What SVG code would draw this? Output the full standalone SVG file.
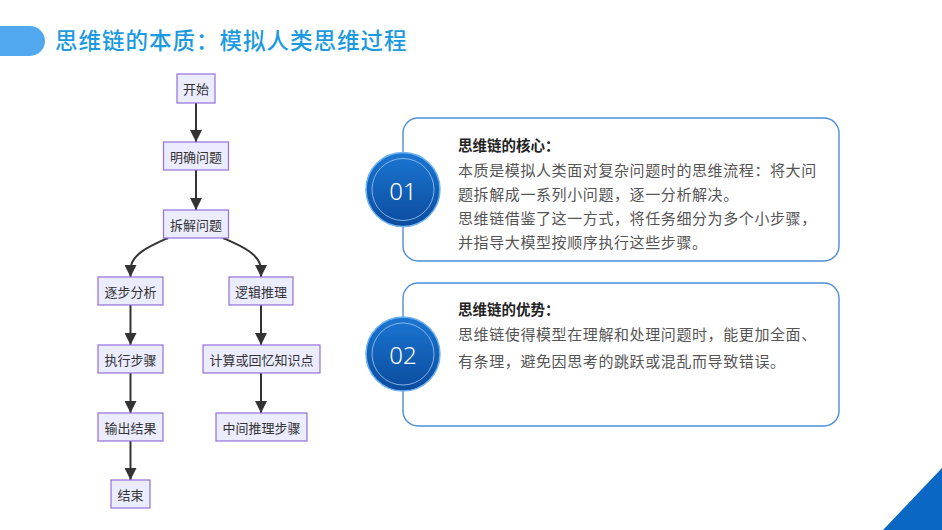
<svg xmlns="http://www.w3.org/2000/svg" width="942" height="530" viewBox="0 0 942 530">
<defs>
<style>
.nd rect{fill:#ECECFF;stroke:#9370DB;stroke-width:1.2}
.nd text{font-family:"Noto Sans CJK SC","Noto Sans",sans-serif;font-size:13px;fill:#333;text-anchor:middle;dominant-baseline:central}
.ed path{fill:none;stroke:#333;stroke-width:2}
.card{fill:#fff;stroke:#4A8FD6;stroke-width:1.4}
.num{font-family:"Noto Sans","Noto Sans CJK SC",sans-serif;font-size:24px;font-weight:300;fill:#fff;text-anchor:middle;dominant-baseline:central}
.hd{font-family:"Noto Sans CJK SC",sans-serif;font-size:14.5px;font-weight:bold;fill:#222}
.bd{font-family:"Noto Sans CJK SC",sans-serif;font-size:15px;fill:#555;letter-spacing:0.6px}
</style>
<marker id="ar" markerWidth="12" markerHeight="12" refX="10" refY="5" orient="auto" markerUnits="userSpaceOnUse" viewBox="0 0 10 10">
<path d="M0,0 L10,5 L0,10 z" fill="#333"/>
</marker>
<linearGradient id="cg" x1="0" y1="0" x2="0" y2="1">
<stop offset="0" stop-color="#1B76D2"/>
<stop offset="1" stop-color="#0B4B9E"/>
</linearGradient>
</defs>
<rect width="942" height="530" fill="#fff"/>
<g id="title">
<path d="M0,26 H30 A15,15 0 0 1 45,41 A15,15 0 0 1 30,56 H0 z" fill="#52A8EF"/>
<text x="55" y="49" font-family="Noto Sans CJK SC,sans-serif" font-size="22.5px" font-weight="500" fill="#1B9AE0" letter-spacing="1">思维链的本质：模拟人类思维过程</text>
</g>
<g id="edges" class="ed">
<path d="M196,103 V142" marker-end="url(#ar)"/>
<path d="M196,170 V210" marker-end="url(#ar)"/>
<path d="M168,238 C150,246 130.5,254 130.5,270 V277" marker-end="url(#ar)"/>
<path d="M223,238 C241,246 261,254 261,270 V277" marker-end="url(#ar)"/>
<path d="M130.5,305 V345" marker-end="url(#ar)"/>
<path d="M130.5,373 V413" marker-end="url(#ar)"/>
<path d="M130.5,441 V480" marker-end="url(#ar)"/>
<path d="M261,305 V345" marker-end="url(#ar)"/>
<path d="M261,373 V413" marker-end="url(#ar)"/>
</g>
<g id="n-start" class="nd"><rect x="177" y="74" width="38" height="29"/><text x="196" y="88.5">开始</text></g>
<g id="n-clarify" class="nd"><rect x="163.5" y="142" width="65" height="28"/><text x="196" y="156">明确问题</text></g>
<g id="n-split" class="nd"><rect x="163.5" y="210" width="65" height="28"/><text x="196" y="224">拆解问题</text></g>
<g id="n-analyze" class="nd"><rect x="98" y="277" width="65" height="28"/><text x="130.5" y="291">逐步分析</text></g>
<g id="n-logic" class="nd"><rect x="229" y="277" width="64" height="28"/><text x="261" y="291">逻辑推理</text></g>
<g id="n-exec" class="nd"><rect x="98" y="345" width="65" height="28"/><text x="130.5" y="359">执行步骤</text></g>
<g id="n-calc" class="nd"><rect x="203" y="345" width="117" height="28"/><text x="261.5" y="359">计算或回忆知识点</text></g>
<g id="n-output" class="nd"><rect x="98" y="413" width="65" height="28"/><text x="130.5" y="427">输出结果</text></g>
<g id="n-mid" class="nd"><rect x="216" y="413" width="91" height="28"/><text x="261.5" y="427">中间推理步骤</text></g>
<g id="n-end" class="nd"><rect x="111" y="480" width="39" height="28"/><text x="130.5" y="494">结束</text></g>
<g id="card1">
<rect class="card" x="403" y="118" width="436" height="143" rx="15"/>
<circle cx="403" cy="189.5" r="37" fill="url(#cg)" stroke="#6FB3F0" stroke-width="1.5"/>
<circle cx="403" cy="189.5" r="31" fill="none" stroke="#9CC8F2" stroke-width="0.8"/>
<text class="num" x="403" y="190">01</text>
<text class="hd" x="458" y="151">思维链的核心：</text>
<text class="bd" x="458" y="176">本质是模拟人类面对复杂问题时的思维流程：将大问</text>
<text class="bd" x="458" y="200">题拆解成一系列小问题，逐一分析解决。</text>
<text class="bd" x="458" y="224">思维链借鉴了这一方式，将任务细分为多个小步骤，</text>
<text class="bd" x="458" y="248">并指导大模型按顺序执行这些步骤。</text>
</g>
<g id="card2">
<rect class="card" x="403" y="283" width="436" height="143" rx="15"/>
<circle cx="403" cy="354" r="37" fill="url(#cg)" stroke="#6FB3F0" stroke-width="1.5"/>
<circle cx="403" cy="354" r="31" fill="none" stroke="#9CC8F2" stroke-width="0.8"/>
<text class="num" x="403" y="354.5">02</text>
<text class="hd" x="458" y="315">思维链的优势：</text>
<text class="bd" x="458" y="340">思维链使得模型在理解和处理问题时，能更加全面、</text>
<text class="bd" x="458" y="367">有条理，避免因思考的跳跃或混乱而导致错误。</text>
</g>
<g id="corner"><polygon points="883,530 942,468 942,530" fill="#0B67C4"/></g>
</svg>
